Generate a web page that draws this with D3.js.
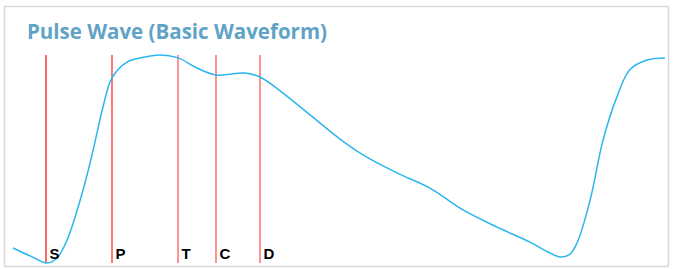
<!DOCTYPE html>
<html>
<head>
<meta charset="utf-8">
<script src="https://cdn.jsdelivr.net/npm/d3@7"></script>
<style>
  body { margin: 0; background: #fff; }
</style>
</head>
<body>
<div id="chart"></div>
<script>
// time (arbitrary units) and amplitude (% of peak)
var times = [0, 17, 34, 44, 54, 70, 80, 90, 99, 114, 132, 147, 165, 183, 203, 232, 247, 270, 327,
             350, 384, 417, 450, 484, 517, 535, 547, 557, 564, 577, 590, 604, 617, 634, 652];
var amps  = [7.2, 3.4, 0, 2.4, 11, 35, 54, 75, 89, 96.6, 99, 100, 98.6, 94, 90.4, 91.3, 89.4, 81.7, 59.6,
             52, 43.3, 36, 25.5, 17.3, 10, 5.3, 2.9, 4.3, 9.6, 30, 59, 80, 93, 97.6, 98.6];

var markerNames = ["S", "P", "T", "C", "D"];
var markerTimes = [33, 99, 165, 203, 247];
var markerColors = ["#ff1a1a", "#ff3030", "#ff5a5a", "#ff5a5a", "#ff5a5a"];

var W = 673, H = 269;

var svg = d3.select("#chart")
    .append("svg")
    .attr("width", W)
    .attr("height", H);

// frame
svg.append("rect")
    .attr("x", 4.5).attr("y", 6.5)
    .attr("width", 664).attr("height", 260)
    .attr("fill", "#fff")
    .attr("stroke", "#d6dadb")
    .attr("stroke-width", 1.5);

svg.append("text")
    .attr("x", 27)
    .attr("y", 39)
    .attr("font-family", "'Open Sans', sans-serif")
    .attr("font-weight", "bold")
    .attr("font-size", 20.5)
    .attr("textLength", 300)
    .attr("fill", "#5fa3c6")
    .text("Pulse Wave (Basic Waveform)");

var x = d3.scaleLinear().domain([0, 652]).range([13, 665]);
var y = d3.scaleLinear().domain([0, 100]).range([263, 55]);

var data = times.map(function(t, i) { return {t: t, a: amps[i]}; });

// marker lines
svg.selectAll(".marker")
    .data(markerTimes)
    .enter().append("line")
    .attr("class", "marker")
    .attr("x1", function(d) { return x(d); })
    .attr("x2", function(d) { return x(d); })
    .attr("y1", 55)
    .attr("y2", 263)
    .attr("stroke", function(d, i) { return markerColors[i]; })
    .attr("stroke-width", 1.3);

var line = d3.line()
    .x(function(d) { return x(d.t); })
    .y(function(d) { return y(d.a); })
    .curve(d3.curveCatmullRom.alpha(0.5));

svg.append("path")
    .datum(data)
    .attr("d", line)
    .attr("fill", "none")
    .attr("stroke", "#2cb6ee")
    .attr("stroke-width", 1.5);

svg.selectAll(".mlabel")
    .data(markerTimes)
    .enter().append("text")
    .attr("class", "mlabel")
    .attr("x", function(d) { return x(d) + 3.5; })
    .attr("y", 259)
    .attr("font-family", "'Liberation Sans', Arial, sans-serif")
    .attr("font-weight", "bold")
    .attr("font-size", 15)
    .attr("fill", "#000")
    .text(function(d, i) { return markerNames[i]; });
</script>
</body>
</html>
